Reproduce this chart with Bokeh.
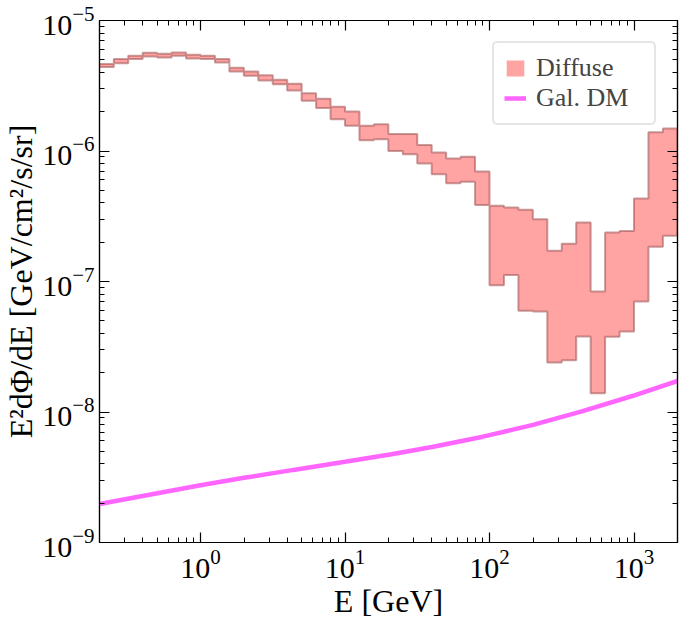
import numpy as np
from bokeh.plotting import figure
from bokeh.models import LogAxis, Legend, LegendItem, CustomJSTickFormatter, LogTicker
from bokeh.embed import file_html
from bokeh.resources import INLINE

# Diffuse band: 40 log-spaced bins (0.1 dex) from 10^-0.7 to 10^3.3 GeV
bin_log_start = -0.7
bin_log_width = 0.1
diffuse_upper = [4.64e-6, 5.06e-6, 5.36e-6, 5.65e-6, 5.55e-6, 5.69e-6, 5.46e-6, 5.36e-6,
                 5.06e-6, 4.34e-6, 4.06e-6, 3.81e-6, 3.51e-6, 3.27e-6, 2.77e-6, 2.51e-6,
                 2.18e-6, 2.01e-6, 1.56e-6, 1.60e-6, 1.35e-6, 1.35e-6, 1.11e-6, 9.75e-7,
                 8.77e-7, 9.03e-7, 6.97e-7, 3.80e-7, 3.69e-7, 3.54e-7, 3.00e-7, 1.72e-7,
                 1.95e-7, 2.83e-7, 8.38e-8, 2.37e-7, 2.44e-7, 4.32e-7, 1.39e-6, 1.49e-6]
diffuse_lower = [4.41e-6, 4.71e-6, 5.06e-6, 5.30e-6, 5.20e-6, 5.36e-6, 5.12e-6, 5.06e-6,
                 4.77e-6, 4.06e-6, 3.77e-6, 3.47e-6, 3.24e-6, 2.91e-6, 2.43e-6, 2.14e-6,
                 1.75e-6, 1.56e-6, 1.21e-6, 1.23e-6, 1.00e-6, 9.46e-7, 8.02e-7, 6.64e-7,
                 5.67e-7, 5.81e-7, 3.85e-7, 9.38e-8, 1.12e-7, 5.96e-8, 5.89e-8, 2.39e-8,
                 2.49e-8, 3.79e-8, 1.39e-8, 3.77e-8, 4.14e-8, 7.03e-8, 1.85e-7, 2.24e-7]

# Galactic DM line
dm_energy = [0.2, 1.0, 2.0, 4.4, 10.0, 21.0, 40.0, 90.0, 200.0, 435.0, 960.0, 2000.0]
dm_flux = [1.97e-9, 2.75e-9, 3.13e-9, 3.60e-9, 4.15e-9, 4.74e-9, 5.40e-9, 6.47e-9,
           7.96e-9, 1.01e-8, 1.32e-8, 1.73e-8]

x_range = (0.2, 2000)
y_range = (1e-9, 1e-5)

FONT = "Liberation Serif"

n = len(diffuse_upper)
edges = 10 ** (bin_log_start + bin_log_width * np.arange(n + 1))
xs_top, ys_top = [], []
for i in range(n):
    xs_top += [edges[i], edges[i + 1]]
    ys_top += [diffuse_upper[i], diffuse_upper[i]]
xs_bot, ys_bot = [], []
for i in range(n):
    xs_bot += [edges[i], edges[i + 1]]
    ys_bot += [diffuse_lower[i], diffuse_lower[i]]
poly_x = xs_top + xs_bot[::-1]
poly_y = ys_top + ys_bot[::-1]

p = figure(width=687, height=628, x_axis_type="log", y_axis_type="log",
           x_range=x_range, y_range=y_range, output_backend="svg",
           toolbar_location=None, min_border_left=96, min_border_right=10,
           min_border_top=20, min_border_bottom=86)
p.grid.visible = False
p.outline_line_color = "black"
p.outline_line_width = 1.2
p.background_fill_color = "white"
p.border_fill_color = "white"

fill_r = p.patch(poly_x, poly_y, fill_color="#ff0000", fill_alpha=0.36, line_color=None)
p.patch(poly_x, poly_y, fill_color=None, line_color="#9a5050", line_alpha=0.55, line_width=2)
line_r = p.line(dm_energy, dm_flux, line_color="#ff66ff", line_width=4.5)

empty_fmt = CustomJSTickFormatter(code="return ''")

def style_axis(ax, show_labels=True):
    ax.axis_line_color = "black"
    ax.axis_line_width = 1.2
    ax.major_tick_in = 10
    ax.major_tick_out = 0
    ax.minor_tick_in = 5
    ax.minor_tick_out = 0
    ax.major_tick_line_color = "black"
    ax.minor_tick_line_color = "black"
    ax.major_tick_line_width = 1.2
    ax.minor_tick_line_width = 1.0
    ax.major_label_text_font = FONT
    ax.major_label_text_font_size = "30px"
    ax.major_label_text_color = "black"
    ax.axis_label_text_font = FONT
    ax.axis_label_text_font_size = "32px"
    ax.axis_label_text_font_style = "normal"
    ax.axis_label_text_color = "black"
    if not show_labels:
        ax.formatter = empty_fmt
        ax.major_label_standoff = 0

xa = p.xaxis[0]
ya = p.yaxis[0]
xa.ticker = LogTicker(num_minor_ticks=10)
ya.ticker = LogTicker(num_minor_ticks=10)
style_axis(xa)
style_axis(ya)
xa.axis_label = "E [GeV]"
ya.axis_label = "E²dΦ/dE [GeV/cm²/s/sr]"
xa.major_label_standoff = 7
ya.major_label_standoff = 5
xa.axis_label_standoff = 2
ya.axis_label_standoff = 0

top = LogAxis(ticker=LogTicker(num_minor_ticks=10))
right = LogAxis(ticker=LogTicker(num_minor_ticks=10))
style_axis(top, False)
style_axis(right, False)
p.add_layout(top, "above")
p.add_layout(right, "right")

legend = Legend(items=[LegendItem(label="Diffuse", renderers=[fill_r]),
                       LegendItem(label="Gal. DM", renderers=[line_r])],
                location="top_right")
legend.margin = 21
legend.padding = 10
legend.spacing = 0
legend.label_text_font = FONT
legend.label_text_font_size = "26px"
legend.label_standoff = 10
legend.label_width = 108
legend.glyph_width = 22
legend.glyph_height = 20
legend.border_line_color = "#cccccc"
legend.border_line_width = 2
legend.background_fill_alpha = 0.8
if "border_radius" in Legend.properties():
    legend.border_radius = 5
p.add_layout(legend, "center")

open("out.html", "w").write(file_html(p, INLINE))
